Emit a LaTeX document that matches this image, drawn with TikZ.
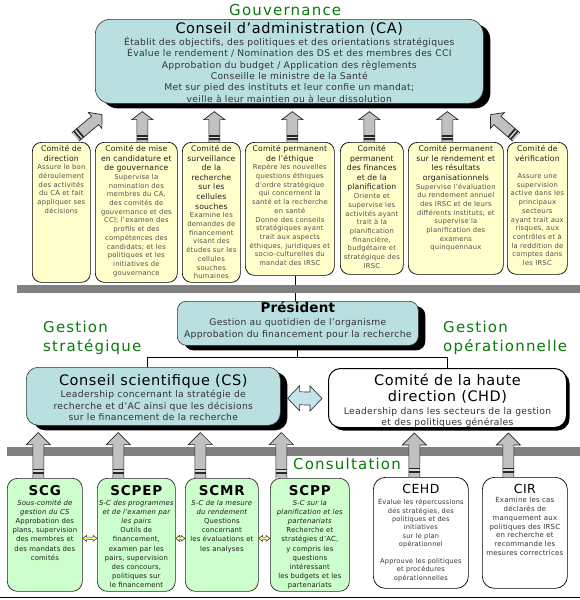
\documentclass[tikz,border=0pt]{standalone}
\usepackage{fontspec}
\setmainfont{DejaVu Sans}
\newfontfamily\fnT[LetterSpace=4]{DejaVu Sans}
\newfontfamily\fnD[LetterSpace=3.5]{DejaVu Sans}
\newfontfamily\fnC[LetterSpace=3]{DejaVu Sans}
\newfontfamily\fnK[LetterSpace=2]{DejaVu Sans}
\newfontfamily\fnS[LetterSpace=6]{DejaVu Sans}
\newfontfamily\fnG[LetterSpace=8]{DejaVu Sans}
\newfontfamily\fnP[LetterSpace=1]{DejaVu Sans}
\usetikzlibrary{calc,shadows,backgrounds}
\definecolor{tealfill}{HTML}{B9DFE1}
\definecolor{yelfill}{HTML}{FFFFCC}
\definecolor{grnfill}{HTML}{CCFFCC}
\definecolor{ghead}{HTML}{0B7A0B}
\definecolor{bargray}{HTML}{808080}
\definecolor{arrgray}{HTML}{C0C0C0}
\definecolor{dblblue}{HTML}{C5E3EA}
\definecolor{ydbl}{HTML}{FFFF88}
\definecolor{ttc}{HTML}{1E1E1E}
\definecolor{dsc}{HTML}{505050}
\definecolor{tdsc}{HTML}{333333}

\newcommand\bxt[3]{\begin{minipage}[t][#2][t]{#1}\centering #3\par\end{minipage}}
% fonts
\newcommand\cT{\fnK\fontsize{7.7}{9.6}\selectfont\color{ttc}}
\newcommand\cD{\fnC\fontsize{6.8}{8.7}\selectfont\color{dsc}}
\newcommand\bigT{\fnT\fontsize{14.5}{16}\selectfont\color{black}}
\newcommand\tD{\fnD\fontsize{9.2}{11.4}\selectfont\color{tdsc}}
\newcommand\sT{\fnS\bfseries\fontsize{13.5}{15}\selectfont\color{black}}
\newcommand\sD{\fnK\fontsize{6.9}{9.2}\selectfont\color{ttc}}

% block arrow: tail, tip, shaft half, head half, head length, band offset
\newcommand\blockarr[6]{%
  \path let \p1=#1, \p2=#2, \n1={atan2(\y2-\y1,\x2-\x1)}, \n2={veclen(\x2-\x1,\y2-\y1)} in
    \pgfextra{\pgfmathparse{\n1}\xdef\BAang{\pgfmathresult}\pgfmathparse{\n2}\xdef\BAlen{\pgfmathresult}\xdef\BAx{\x1}\xdef\BAy{\y1}};
  \begin{scope}[shift={(\BAx,\BAy)},rotate=\BAang]
    \fill[arrgray] (0pt,-#3pt) -- ({\BAlen pt-#5pt},-#3pt) -- ({\BAlen pt-#5pt},-#4pt) -- (\BAlen pt,0pt) -- ({\BAlen pt-#5pt},#4pt) -- ({\BAlen pt-#5pt},#3pt) -- (0pt,#3pt) -- cycle;
    \fill[black!85] (#6pt,-#3pt) rectangle ({#6pt+5pt},#3pt);
    \fill[arrgray!60] ({#6pt+1.7pt},-#3pt) rectangle ({#6pt+3.1pt},#3pt);
    \draw[line width=0.7pt,draw=black!85,line join=miter] (0pt,-#3pt) -- ({\BAlen pt-#5pt},-#3pt) -- ({\BAlen pt-#5pt},-#4pt) -- (\BAlen pt,0pt) -- ({\BAlen pt-#5pt},#4pt) -- ({\BAlen pt-#5pt},#3pt) -- (0pt,#3pt);
  \end{scope}}
% double arrow: style, left tip, right tip, head length, head half, shaft half
\newcommand\dblarr[6]{%
  \draw[#1] let \p1=#2, \p2=#3 in (\p1) -- (\x1+#4pt,\y1+#5pt) -- (\x1+#4pt,\y1+#6pt) -- (\x2-#4pt,\y2+#6pt) -- (\x2-#4pt,\y2+#5pt) -- (\p2) -- (\x2-#4pt,\y2-#5pt) -- (\x2-#4pt,\y2-#6pt) -- (\x1+#4pt,\y1-#6pt) -- (\x1+#4pt,\y1-#5pt) -- cycle;}

\tikzset{
  tealbox/.style={draw=black!80, line width=0.6pt, fill=tealfill, rounded corners=#1,
    drop shadow={shadow xshift=7pt, shadow yshift=-5pt, fill=black, opacity=1},
    anchor=north west},
  yelbox/.style={draw=black, line width=0.7pt, fill=yelfill, rounded corners=9pt,
    inner xsep=1pt, inner ysep=3pt, anchor=north west},
  grnbox/.style={draw=black!85, line width=0.7pt, fill=grnfill, rounded corners=10pt,
    inner xsep=1pt, inner ysep=7.5pt, anchor=north west},
  whtbox/.style={draw=black, line width=0.7pt, fill=white, rounded corners=12pt,
    inner xsep=1pt, inner ysep=7pt, anchor=north west},
  headtxt/.style={text=ghead, font=\fnG\fontsize{15}{17}\selectfont, inner sep=0pt, anchor=base west},
  conn/.style={draw=black, line width=0.8pt},
  bigdbl/.style={draw=black!80, line width=0.7pt, fill=dblblue, line join=miter},
  smdbl/.style={draw=black!80, line width=0.5pt, fill=ydbl, line join=miter}
}

\begin{document}
\begin{tikzpicture}[x=1pt,y=-1pt]
\useasboundingbox (0,0) rectangle (580,600);

% ---------- titles
\node[headtxt] (gov) at (229,15) {Gouvernance};
\node[headtxt] (gs1) at (43,332) {Gestion};
\node[headtxt] (gs2) at (43,351) {stratégique};
\node[headtxt] (go1) at (443,332) {Gestion};
\node[headtxt] (go2) at (443,351) {opérationnelle};
\node[headtxt] (cons) at (293,469) {Consultation};

% ---------- CA
\node[tealbox=15pt, inner xsep=2pt, inner ysep=3.5pt] (ca) at (95,19)
 {\bxt{384pt}{77pt}{{\bigT Conseil d’administration (CA)\par}{\tD Établit des objectifs, des politiques et des orientations stratégiques\\Évalue le rendement / Nomination des DS et des membres des CCI\\Approbation du budget / Application des règlements\\Conseille le ministre de la Santé\\Met sur pied des instituts et leur confie un mandat;\\veille à leur maintien ou à leur dissolution\par}}};

% ---------- committees
\node[yelbox] (c1) at (32,142) {\bxt{56pt}{134pt}{{\cT Comité de\\direction\par}{\cD Assure le bon\\déroulement\\des activités\\du CA et fait\\appliquer ses\\décisions\par}}};
\node[yelbox] (c2) at (95,142) {\bxt{80pt}{134pt}{{\cT Comité de mise\\en candidature et\\de gouvernance\par}{\cD Supervise la\\nomination des\\membres du CA,\\des comités de\\gouvernance et des\\CCI; l’examen des\\profils et des\\compétences des\\candidats; et les\\politiques et les\\initiatives de\\gouvernance\par}}};
\node[yelbox] (c3) at (182,142) {\bxt{56pt}{134pt}{{\cT Comité de\\surveillance\\de la\\recherche\\sur les\\cellules\\souches\par}{\cD Examine les\\demandes de\\financement\\visant des\\études sur les\\cellules\\souches\\humaines\par}}};
\node[yelbox] (c4) at (245,142) {\bxt{87pt}{127pt}{{\cT Comité permanent\\de l’éthique\par}{\cD Repère les nouvelles\\questions éthiques\\d’ordre stratégique\\qui concernent la\\santé et la recherche\\en santé\\Donne des conseils\\stratégiques ayant\\trait aux aspects\\éthiques, juridiques et\\socio-culturelles du\\mandat des IRSC\par}}};
\node[yelbox] (c5) at (340,142) {\bxt{61pt}{126pt}{{\cT Comité\\permanent\\des finances\\et de la\\planification\par}{\cD Oriente et\\supervise les\\activités ayant\\trait à la\\planification\\financière,\\budgétaire et\\stratégique des\\IRSC\par}}};
\node[yelbox] (c6) at (408,142) {\bxt{93pt}{126pt}{{\cT Comité permanent\\sur le rendement et\\les résultats\\organisationnels\par}{\cD Supervise l’évaluation\\du rendement annuel\\des IRSC et de leurs\\différents instituts; et\\supervise la\\planification des\\examens\\quinquennaux\par}}};
\node[yelbox] (c7) at (507,142) {\bxt{58pt}{126pt}{{\cT Comité de\\vérification\par}\vspace{8.7pt}{\cD Assure une\\supervision\\active dans les\\principaux\\secteurs\\ayant trait aux\\risques, aux\\contrôles et à\\la reddition de\\comptes dans\\les IRSC\par}}};

% ---------- President, CS, CHD
\node[tealbox=9pt, inner xsep=1pt, inner ysep=0pt] (pres) at (177,301)
 {\bxt{239pt}{44pt}{{\fnP\bfseries\fontsize{13.5}{15}\selectfont\color{black} Président\par}\vspace{2pt}{\fnD\fontsize{9.2}{11.5}\selectfont\color{tdsc} Gestion au quotidien de l’organisme\\Approbation du financement pour la recherche\par}}};
\node[tealbox=12pt, inner xsep=2pt, inner ysep=7pt] (cs) at (26,367)
 {\bxt{250pt}{44pt}{{\bigT Conseil scientifique (CS)\par}\vspace{1pt}{\fnD\fontsize{9.2}{11.5}\selectfont\color{tdsc} Leadership concernant la stratégie de\\recherche et d’AC ainsi que les décisions\\sur le financement de la recherche\par}}};
\node[whtbox, line width=1pt, inner xsep=2pt, inner ysep=5pt,
  drop shadow={shadow xshift=3pt, shadow yshift=-3pt, fill=black, opacity=1}] (chd) at (328,368)
 {\bxt{234pt}{49pt}{{\bigT Comité de la haute\\direction (CHD)\par}\vspace{2.5pt}{\fnD\fontsize{9.2}{11}\selectfont\color{tdsc} Leadership dans les secteurs de la gestion\\et des politiques générales\par}}};

% ---------- sub-committees
\node[grnbox] (scg) at (7,478) {\bxt{73pt}{98pt}{{\sT SCG\par}{\sD{\itshape Sous-comité de\\gestion du CS}\\Approbation des\\plans, supervision\\des membres et\\des mandats des\\comités\par}}};
\node[grnbox] (scpep) at (97,478) {\bxt{76pt}{98pt}{{\sT SCPEP\par}{\sD{\itshape S-C des programmes\\et de l’examen par\\les pairs}\\Outils de\\financement,\\examen par les\\pairs, supervision\\des concours,\\politiques sur\\le financement\par}}};
\node[grnbox] (scmr) at (185,478) {\bxt{71pt}{98pt}{{\sT SCMR\par}{\sD{\itshape S-C de la mesure\\du rendement}\\Questions\\concernant\\les évaluations et\\les analyses\par}}};
\node[grnbox] (scpp) at (270,478) {\bxt{77pt}{98pt}{{\sT SCPP\par}{\sD{\itshape S-C sur la\\planification et les\\partenariats}\\Recherche et\\stratégies d’AC,\\y compris les\\questions\\intéressant\\les budgets et les\\partenariats\par}}};
\node[whtbox] (cehd) at (373,477) {\bxt{93pt}{97pt}{{\fnT\fontsize{12.5}{14}\selectfont CEHD\par}\vspace{2.6pt}{\fnC\fontsize{6.6}{8.4}\selectfont\color{tdsc} Évalue les répercussions\\des stratégies, des\\politiques et des\\initiatives\\sur le plan\\opérationnel\\[8.4pt]Approuve les politiques\\et procédures\\opérationnelles\par}}};
\node[whtbox] (cir) at (482,477) {\bxt{83pt}{97pt}{{\fnT\fontsize{12.5}{14}\selectfont CIR\par}{\fnC\fontsize{7}{8.85}\selectfont\color{tdsc} Examine les cas\\déclarés de\\manquement aux\\politiques des IRSC\\en recherche et\\recommande les\\mesures correctrices\par}}};

% ---------- background: connectors and bars
\begin{pgfonlayer}{background}
  \fill[white] (0,0) rectangle (580,600);
  \draw[conn] ($(pres.north)+(-2,0)$) -- ($(pres.north |- c4.south)+(-2,0)$);
  \coordinate (jn) at ($(pres.south)+(0,12)$);
  \draw[conn] (pres.south) -- (jn);
  \draw[conn] ($(cs.north)+(-6,0)$) |- (jn) -| (chd.north);
  \fill[bargray] (17,284.5) rectangle (580,292.5);
  \fill[bargray] (7,447) rectangle (580,456);
\end{pgfonlayer}

% ---------- block arrows to CA
\blockarr{($(c1.north)+(14,-5)$)}{($(ca.south west)+(7,11)$)}{5.5}{10.5}{9}{2}
\blockarr{($(c2.north)+(6,0)$)}{($(c2.north |- ca.south)+(6,8)$)}{5.5}{10.5}{8}{2}
\blockarr{($(c3.north)+(3,0)$)}{($(c3.north |- ca.south)+(3,8)$)}{5.5}{10.5}{8}{2}
\blockarr{($(c4.north)+(2.5,0)$)}{($(c4.north |- ca.south)+(2.5,8)$)}{5.5}{10.5}{8}{2}
\blockarr{($(c5.north)+(-2.5,0)$)}{($(c5.north |- ca.south)+(-2.5,8)$)}{5.5}{10.5}{8}{2}
\blockarr{($(c6.north)+(-8.5,0)$)}{($(c6.north |- ca.south)+(-8.5,8)$)}{5.5}{10.5}{8}{2}
\blockarr{($(c7.north)+(-21,-5)$)}{($(ca.south east)+(7,11)$)}{5.5}{10.5}{9}{2}

% ---------- block arrows to CS / CHD
\blockarr{($(scg.north)+(-6.5,0)$)}{($(scg.north |- cs.south)+(-6.5,7)$)}{5.5}{12}{12}{4.5}
\blockarr{($(scpep.north)+(-18,0)$)}{($(scpep.north |- cs.south)+(-18,7)$)}{5.5}{12}{12}{4.5}
\blockarr{($(scmr.north)+(-21.5,0)$)}{($(scmr.north |- cs.south)+(-21.5,7)$)}{5.5}{12}{12}{4.5}
\blockarr{($(scpp.north)+(-28.5,0)$)}{($(scpp.north |- cs.south)+(-28.5,7)$)}{5.5}{12}{12}{4.5}
\blockarr{($(cehd.north)+(-6.5,0)$)}{($(cehd.north |- chd.south)+(-6.5,5)$)}{5.5}{12}{12}{4.5}
\blockarr{($(cir.north)+(-16.5,0)$)}{($(cir.north |- chd.south)+(-16.5,5)$)}{5.5}{12}{12}{4.5}

% ---------- double arrows
\dblarr{bigdbl}{($(cs.east)+(7,2)$)}{($(chd.west)+(-6,0.5)$)}{12}{12.5}{6.5}
\dblarr{smdbl}{($(scg.east)+(0,3.5)$)}{($(scpep.west)+(0,3.5)$)}{4}{3}{1.3}
\dblarr{smdbl}{($(scpep.east)+(0,3.5)$)}{($(scmr.west)+(0,3.5)$)}{4}{3}{1.3}
\dblarr{smdbl}{($(scmr.east)+(0,3.5)$)}{($(scpp.west)+(0,3.5)$)}{4}{3}{1.3}

% ---------- bottom rule
\coordinate (bl) at (0,597.5);
\coordinate (br) at (580,597.5);
\draw[line width=1.3pt] (bl) -- (br);
\end{tikzpicture}
\end{document}
